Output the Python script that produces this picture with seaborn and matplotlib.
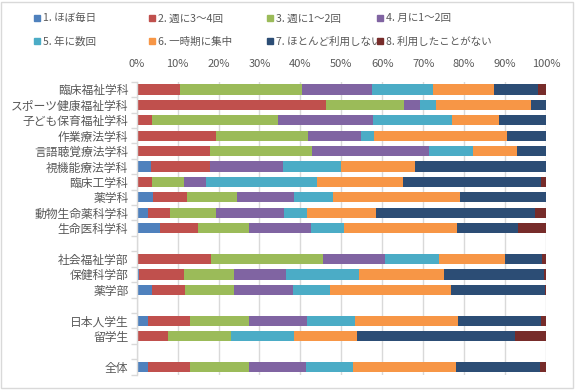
import numpy as np
import pandas as pd
import matplotlib
matplotlib.use("Agg")
import matplotlib.pyplot as plt
import seaborn as sns
from matplotlib.lines import Line2D
from matplotlib.patches import Rectangle

# rows top to bottom, "" = spacer row
rows = ["臨床福祉学科", "スポーツ健康福祉学科", "子ども保育福祉学科", "作業療法学科",
        "言語聴覚療法学科", "視機能療法学科", "臨床工学科", "薬学科",
        "動物生命薬科学科", "生命医科学科", "",
        "社会福祉学部", "保健科学部", "薬学部", "",
        "日本人学生", "留学生", "",
        "全体"]

legend_labels = ["1. ほぼ毎日", "2. 週に3～4回", "3. 週に1～2回", "4. 月に1～2回",
                 "5. 年に数回", "6. 一時期に集中", "7. ほとんど利用しない", "8. 利用したことがない"]

colors = ["#4F81BD", "#C0504D", "#9BBB59", "#8064A2",
          "#4BACC6", "#F79646", "#2C4D75", "#772C2A"]

# percentages per category (columns = answers 1..8)
shares = {
    "臨床福祉学科":       [0.0, 10.6, 29.8, 17.1, 14.9, 14.9, 10.8, 1.9],
    "スポーツ健康福祉学科": [0.0, 46.2, 19.1, 3.9, 3.9, 23.2, 3.7, 0.0],
    "子ども保育福祉学科":   [0.0, 3.7, 30.8, 23.3, 19.3, 11.5, 11.4, 0.0],
    "作業療法学科":       [0.0, 19.4, 22.4, 13.0, 3.2, 32.5, 9.5, 0.0],
    "言語聴覚療法学科":    [0.0, 17.9, 24.9, 28.6, 10.8, 10.7, 7.1, 0.0],
    "視機能療法学科":      [3.5, 14.4, 0.0, 17.8, 14.2, 18.1, 32.0, 0.0],
    "臨床工学科":        [0.0, 3.7, 7.9, 5.3, 27.1, 21.1, 33.7, 1.2],
    "薬学科":           [4.0, 8.3, 12.2, 14.0, 9.5, 31.0, 21.0, 0.0],
    "動物生命薬科学科":    [2.8, 5.3, 11.3, 16.6, 5.6, 16.9, 38.8, 2.7],
    "生命医科学科":       [5.7, 9.3, 12.4, 15.2, 8.0, 27.7, 14.9, 6.8],
    "社会福祉学部":       [0.0, 18.2, 27.3, 15.2, 13.2, 16.1, 9.0, 1.0],
    "保健科学部":        [0.6, 11.0, 12.2, 12.7, 17.8, 20.8, 24.4, 0.5],
    "薬学部":           [3.7, 8.1, 12.0, 14.4, 9.0, 29.6, 23.0, 0.2],
    "日本人学生":        [2.8, 10.2, 14.4, 14.2, 11.7, 25.2, 20.3, 1.2],
    "留学生":           [0.0, 7.6, 15.4, 0.0, 15.5, 15.3, 38.6, 7.6],
    "全体":             [2.8, 10.2, 14.4, 13.9, 11.5, 25.2, 20.5, 1.5],
}

# unique keys for spacer rows so seaborn keeps empty slots
order = []
n_blank = 0
for r in rows:
    if r == "":
        n_blank += 1
        order.append(" " * n_blank)
    else:
        order.append(r)

df = pd.DataFrame(shares, index=legend_labels).T
df = df.div(df.sum(axis=1), axis=0) * 100
cum = df.cumsum(axis=1)
cum["row"] = cum.index

plt.rcParams["font.family"] = ["Noto Sans CJK JP", "DejaVu Sans"]
fig = plt.figure(figsize=(5.75, 3.9), dpi=100)
ax = fig.add_axes([0.2377, 0.0392, 0.9496 - 0.2377, 0.7905 - 0.0392])

# draw cumulative bars from the last answer backwards so each layer shows its own part
for i in range(len(legend_labels) - 1, -1, -1):
    sns.barplot(data=cum, x=legend_labels[i], y="row", order=order, orient="h",
                color=colors[i], saturation=1, width=0.66, linewidth=0, ax=ax)

ax.set_xlim(0, 100)
ax.set_ylim(len(order) - 0.5, -0.5)
ax.set_xticks(np.arange(0, 101, 10))
ax.set_xticklabels([f"{v}%" for v in range(0, 101, 10)])
ax.xaxis.tick_top()
ax.tick_params(axis="x", length=0, pad=9, labelsize=8, labelcolor="#595959")
ax.set_xlabel("")
ax.set_ylabel("")
ax.set_yticks(range(len(order)))
ax.set_yticklabels(rows)
ax.tick_params(axis="y", length=0, pad=6, labelsize=8.5, labelcolor="#595959")
ax.set_yticks(np.arange(-0.5, len(order), 1), minor=True)
ax.tick_params(axis="y", which="minor", length=4, color="#D9D9D9", width=1)

ax.grid(axis="x", color="#D9D9D9", linewidth=1)
ax.set_axisbelow(True)
for s in ["top", "right", "bottom"]:
    ax.spines[s].set_visible(False)
ax.spines["left"].set_color("#D9D9D9")
ax.spines["left"].set_linewidth(1)

handles = [Line2D([], [], marker="s", linestyle="", markersize=5,
                  markerfacecolor=c, markeredgecolor=c) for c in colors]
# one small legend per column (items k and k+4), Excel-like even columns
col_x = [23, 138, 256, 366]
for k, x0 in enumerate(col_x):
    fig.legend([handles[k], handles[k + 4]], [legend_labels[k], legend_labels[k + 4]],
               loc="upper left", bbox_to_anchor=(x0 / 575, 0.99), borderpad=0.4,
               frameon=False, fontsize=7.6, labelcolor="#595959",
               handletextpad=0.15, handlelength=0.8, labelspacing=1.25)

fig.patches.append(Rectangle((0.002, 0.004), 0.995, 0.99, transform=fig.transFigure,
                             fill=False, edgecolor="#D9D9D9", linewidth=1))

fig.savefig("out.png", dpi=100)
